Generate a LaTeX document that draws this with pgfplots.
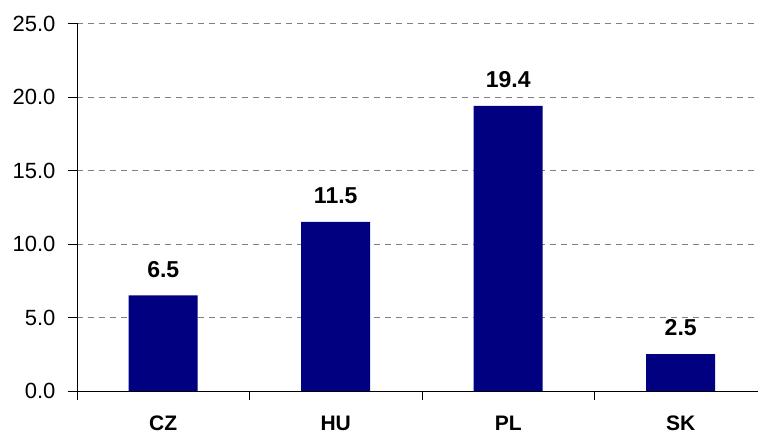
\documentclass[border=0pt]{standalone}
\usepackage{fontspec}
\setmainfont{Liberation Sans}
\usepackage{pgfplots}
\pgfplotsset{compat=1.18}
\definecolor{barblue}{RGB}{0,0,128}
\begin{document}
\begin{tikzpicture}
\begin{axis}[
  at={(0,0)}, anchor=south west,
  scale only axis,
  width=681pt, height=367.5pt,
  xmin=-0.5, xmax=3.448,
  ymin=0, ymax=25,
  axis x line=bottom, axis y line=left,
  axis line style={-, black, line width=0.8pt},
  ybar, bar width=0.4,
  bar shift=0pt,
  xtick={-0.5,0.5,1.5,2.5},
  xticklabels={},
  extra x ticks={0,1,2,3},
  extra x tick labels={CZ,HU,PL,SK},
  extra x tick style={major tick length=0pt, grid=none,
     xticklabel style={font=\fontsize{21}{25}\selectfont\bfseries, inner sep=0pt, yshift=-25pt}},
  tick style={black, line width=0.8pt},
  major tick length=9pt,
  tick align=outside,
  ytick={0,5,10,15,20,25},
  yticklabel style={font=\fontsize{22}{26}\selectfont, xshift=-9pt, /pgf/number format/.cd, fixed, fixed zerofill, precision=1, assume math mode=true},
  ymajorgrids,
  grid style={gray, dash pattern=on 6pt off 5pt, line width=0.7pt},
  nodes near coords,
  nodes near coords style={font=\fontsize{23}{27}\selectfont\bfseries, anchor=south, inner sep=0pt, yshift=18pt,
    /pgf/number format/.cd, fixed, fixed zerofill, precision=1, assume math mode=true},
  clip=false,
]
\addplot[fill=barblue, draw=none] coordinates {(0,6.5) (1,11.5) (2,19.4) (3,2.5)};
\end{axis}
\pgfresetboundingbox
\path[use as bounding box] (-77pt,-45pt) rectangle (681pt,391pt);
\end{tikzpicture}
\end{document}
